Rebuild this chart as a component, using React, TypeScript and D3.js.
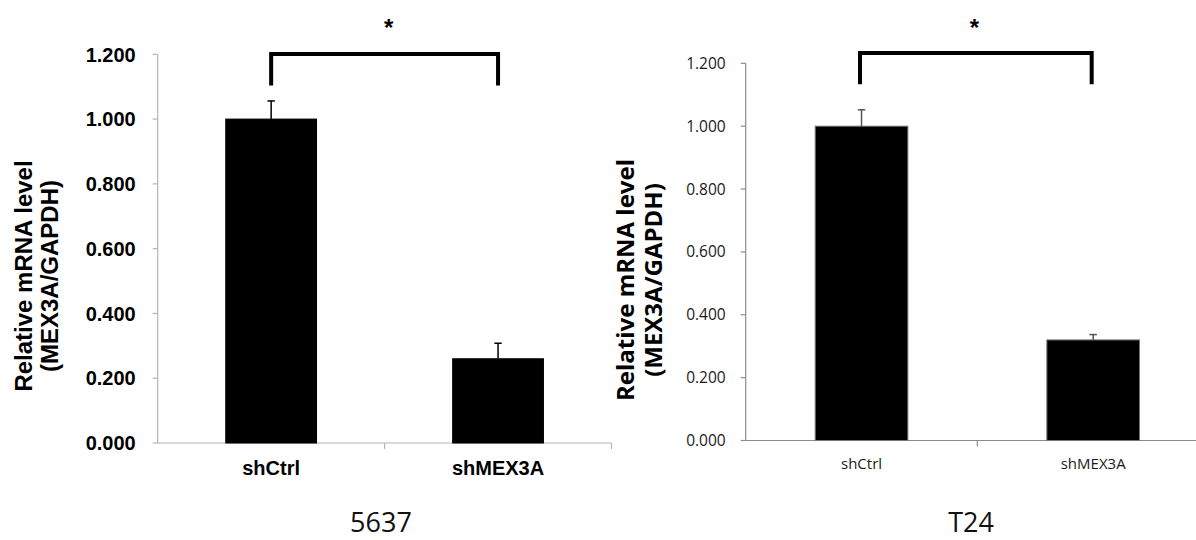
import React from "react";
import { scaleLinear, scaleBand } from "d3";

// data
const categories = ["shCtrl", "shMEX3A"];
const values5637 = [1.0, 0.26];
const errors5637 = [0.056, 0.048];
const valuesT24 = [1.0, 0.32];
const errorsT24 = [0.052, 0.017];
const yTicks = [0, 0.2, 0.4, 0.6, 0.8, 1.0, 1.2];
const yTickLabels = ["0.000", "0.200", "0.400", "0.600", "0.800", "1.000", "1.200"];
const yTitle = ["Relative mRNA level", "(MEX3A/GAPDH)"];

const ARIAL = "'Liberation Sans', Arial, sans-serif";
const CALIBRI = "'Open Sans', 'Noto Sans', sans-serif";

function Panel({ values, errors, name, cfg }) {
  const y = scaleLinear().domain([0, 1.2]).range([cfg.y0, cfg.y12]);
  const x = scaleBand()
    .domain(categories)
    .range([cfg.x0, cfg.x1])
    .paddingInner(0.6)
    .paddingOuter(0.3);
  const step = x.step();
  const cx = (c) => x(c) + x.bandwidth() / 2;
  const c0 = cx(categories[0]);
  const c1 = cx(categories[1]);

  return (
    <g>
      {/* y axis */}
      <line x1={cfg.x0} x2={cfg.x0} y1={y(0)} y2={y(1.2)} stroke={cfg.axisColor} strokeWidth={1.2} />
      {yTicks.map((t, i) => (
        <g key={t}>
          <line x1={cfg.x0 - 5} x2={cfg.x0} y1={y(t)} y2={y(t)} stroke={cfg.axisColor} strokeWidth={1.2} />
          <text
            x={cfg.x0 - cfg.labelGap}
            y={y(t)}
            dy="0.36em"
            textAnchor="end"
            fontFamily={cfg.tickFont}
            fontWeight={cfg.tickWeight}
            fontSize={cfg.tickSize}
            fill={cfg.tickColor}
          >
            {yTickLabels[i]}
          </text>
        </g>
      ))}

      {/* x axis */}
      <line x1={cfg.x0} x2={cfg.x1} y1={y(0)} y2={y(0)} stroke={cfg.axisColor} strokeWidth={1.2} />
      {[1, 2].map((k) => (
        <line
          key={k}
          x1={cfg.x0 + k * step}
          x2={cfg.x0 + k * step}
          y1={y(0)}
          y2={y(0) + 6}
          stroke={cfg.axisColor}
          strokeWidth={1.2}
        />
      ))}
      {categories.map((c) => (
        <text
          key={c}
          x={cx(c)}
          y={y(0) + cfg.catGap}
          textAnchor="middle"
          fontFamily={cfg.tickFont}
          fontWeight={cfg.tickWeight}
          fontSize={cfg.catSize}
          fill={cfg.tickColor}
        >
          {c}
        </text>
      ))}

      {/* bars */}
      {categories.map((c, i) => (
        <rect
          key={c}
          x={x(c)}
          y={y(values[i])}
          width={x.bandwidth()}
          height={y(0) - y(values[i])}
          fill="#000"
          stroke={cfg.barStroke}
          strokeWidth={1}
        />
      ))}

      {/* error bars */}
      {categories.map((c, i) => (
        <g key={c} stroke={cfg.errColor} strokeWidth={1.5}>
          <line x1={cx(c)} x2={cx(c)} y1={y(values[i])} y2={y(values[i] + errors[i])} />
          <line x1={cx(c) - 3.7} x2={cx(c) + 3.7} y1={y(values[i] + errors[i])} y2={y(values[i] + errors[i])} />
        </g>
      ))}

      {/* significance bracket */}
      <path
        d={`M${c0 - cfg.brOff},${y(cfg.brLow)} V${y(cfg.brTop)} H${c1 - cfg.brOff} V${y(cfg.brLow)}`}
        fill="none"
        stroke="#000"
        strokeWidth={4}
      />
      <text
        x={(c0 + c1) / 2 + cfg.starOff}
        y={36}
        textAnchor="middle"
        fontFamily={ARIAL}
        fontWeight="bold"
        fontSize={24}
      >
        *
      </text>

      {/* y title */}
      <text
        transform={`translate(${cfg.title1X},${cfg.titleY}) rotate(-90)`}
        textAnchor="middle"
        fontFamily={cfg.titleFont}
        fontWeight="bold"
        fontSize={24}
      >
        {yTitle[0]}
      </text>
      <text
        transform={`translate(${cfg.title2X},${cfg.titleY}) rotate(-90)`}
        textAnchor="middle"
        fontFamily={cfg.titleFont}
        fontWeight="bold"
        fontSize={24}
      >
        {yTitle[1]}
      </text>

      {/* panel name */}
      <text x={cfg.nameX} y={532} textAnchor="middle" fontFamily={CALIBRI} fontSize={27} fill="#111">
        {name}
      </text>
    </g>
  );
}

const left = {
  x0: 157.7,
  x1: 611.5,
  y0: 443,
  y12: 54.3,
  axisColor: "#b4b4b4",
  labelGap: 22,
  tickFont: ARIAL,
  tickWeight: "bold",
  tickSize: 20,
  catSize: 20,
  catGap: 32,
  tickColor: "#000",
  barStroke: "#000",
  errColor: "#000",
  brLow: 1.104,
  brTop: 1.201,
  brOff: 0,
  starOff: 4,
  titleFont: ARIAL,
  title1X: 32,
  title2X: 58,
  titleY: 276,
  nameX: 381,
};

const right = {
  x0: 745.7,
  x1: 1209,
  y0: 440.5,
  y12: 63.3,
  axisColor: "#8c8c8c",
  labelGap: 20,
  tickFont: CALIBRI,
  tickWeight: "normal",
  tickSize: 15.5,
  catSize: 15,
  catGap: 28,
  tickColor: "#1a1a1a",
  barStroke: "#777",
  errColor: "#555",
  brLow: 1.133,
  brTop: 1.233,
  brOff: 1.5,
  starOff: -3,
  titleFont: CALIBRI,
  title1X: 634,
  title2X: 662,
  titleY: 280,
  nameX: 971,
};

export default function App() {
  return (
    <svg width={1196} height={540} style={{ position: "absolute", left: 0, top: 0, background: "#fff" }}>
      <rect width={1196} height={540} fill="#fff" />
      <Panel values={values5637} errors={errors5637} name="5637" cfg={left} />
      <Panel values={valuesT24} errors={errorsT24} name="T24" cfg={right} />
    </svg>
  );
}
